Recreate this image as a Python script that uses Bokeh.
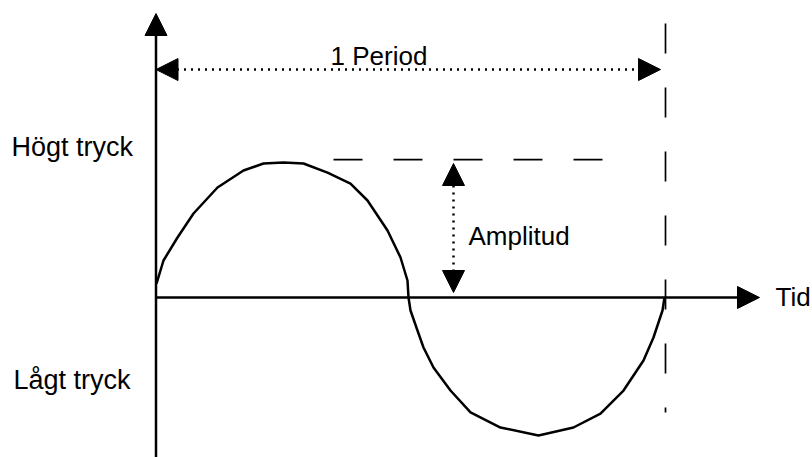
from bokeh.plotting import figure
from bokeh.models import Range1d, Arrow, NormalHead, ColumnDataSource
from bokeh.core.properties import value
from bokeh.embed import file_html
from bokeh.resources import INLINE

# Pressure wave: time in periods, pressure in amplitudes
time_period = [0.001, 0.0147, 0.0422, 0.0736, 0.1207, 0.1717, 0.2110, 0.2502,
               0.2895, 0.3366, 0.3817, 0.4151, 0.4544, 0.4799, 0.4936, 0.4956,
               0.4995, 0.5132, 0.5250, 0.5446, 0.5780, 0.6173, 0.6761, 0.7507,
               0.8194, 0.8724, 0.9176, 0.9568, 0.9764, 0.9941, 0.9980]
pressure = [0.102, 0.270, 0.438, 0.613, 0.803, 0.927, 0.978, 0.985,
            0.978, 0.912, 0.832, 0.708, 0.489, 0.292, 0.124, 0.0,
            -0.095, -0.241, -0.365, -0.511, -0.679, -0.839, -0.949, -1.007,
            -0.949, -0.847, -0.679, -0.460, -0.292, -0.095, 0.0]

PERIOD = 1.0
AMPLITUDE = 1.0

label_texts = ["Högt tryck", "Lågt tryck", "1 Period", "Amplitud", "Tid"]
label_x = [-0.2836, -0.2797, 0.3425, 0.6133, 1.2159]
label_y = [1.102, -0.605, 1.766, 0.447, 0.005]
label_size = ["27px", "27px", "26px", "26px", "26px"]

p = figure(width=812, height=457, output_backend="svg", toolbar_location=None,
           x_range=Range1d(-0.3052, 1.2885), y_range=Range1d(-1.1679, 2.1679),
           x_axis_location=None, y_axis_location=None, min_border=0)
p.grid.visible = False
p.outline_line_color = None
p.background_fill_color = "white"
p.border_fill_color = "white"

def head(sz=22):
    return NormalHead(size=sz, fill_color="black", line_color="black", line_width=1)

# axes with arrow heads
p.add_layout(Arrow(end=head(), x_start=0, y_start=-1.3, x_end=0, y_end=2.073,
                   line_width=2.5, line_color="black"))
p.add_layout(Arrow(end=head(), x_start=0, y_start=0, x_end=1.1845, y_end=0,
                   line_width=2.5, line_color="black"))

# reference dashed lines
p.line([PERIOD, PERIOD], [2.0, -0.839], line_dash="30 34", line_width=1.7, line_color="black")
p.line([0.3484, 0.8763], [AMPLITUDE * 1.007, AMPLITUDE * 1.007], line_dash="29 31",
       line_width=1.7, line_color="black")

# period and amplitude dotted arrows
p.add_layout(Arrow(start=head(), end=head(), x_start=0.0, y_start=1.664,
                   x_end=PERIOD * 0.9902, y_end=1.664,
                   line_dash="2 5", line_width=2.5, line_color="black"))
p.add_layout(Arrow(start=head(), end=head(), x_start=0.5839, y_start=0.0365,
                   x_end=0.5839, y_end=AMPLITUDE * 0.978,
                   line_dash="2 5", line_width=2.5, line_color="black"))

# the wave
p.line(time_period, pressure, line_width=2.5, line_color="black", line_join="round")

src = ColumnDataSource(dict(x=label_x, y=label_y, text=label_texts, size=label_size))
p.text(x="x", y="y", text="text", source=src, text_font=value("Liberation Sans"),
       text_font_size="size", text_baseline="alphabetic", text_align="left",
       text_color="black")

open("out.html", "w").write(file_html(p, INLINE))
